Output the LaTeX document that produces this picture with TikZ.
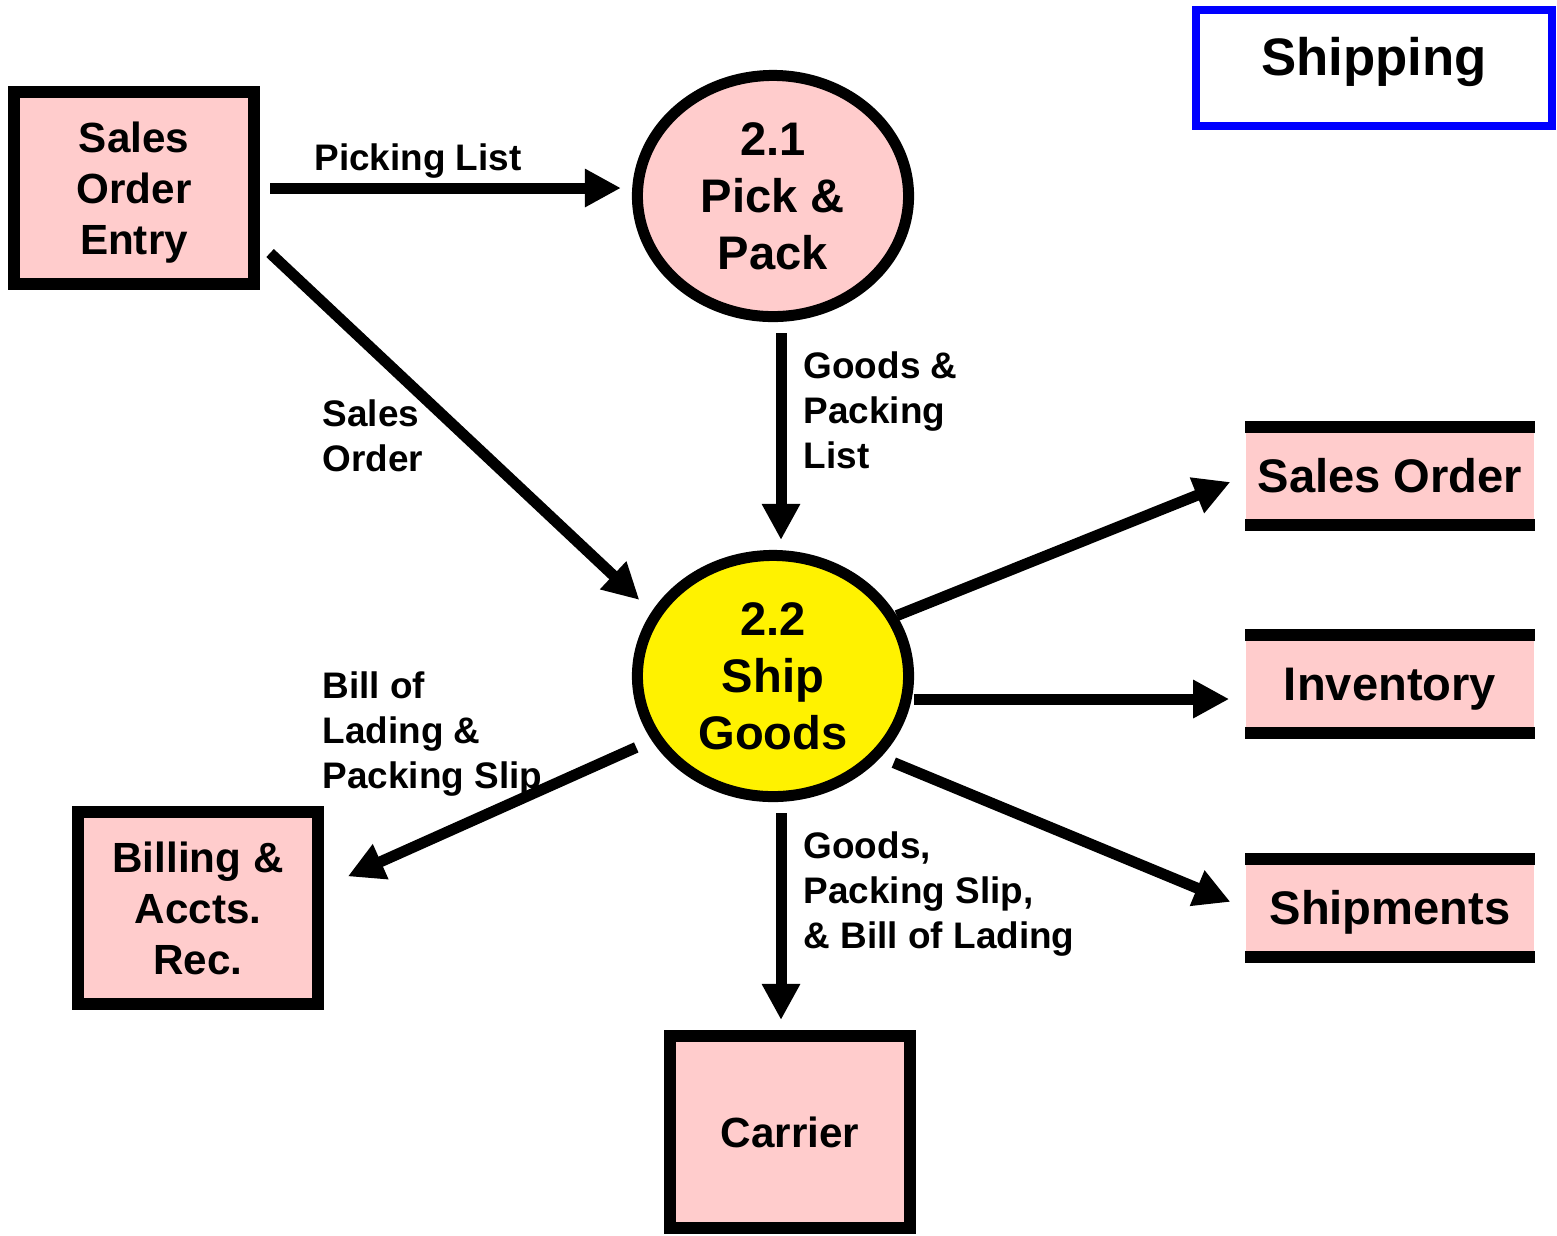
\documentclass[tikz,border=0pt]{standalone}
\usepackage{fontspec}
\setmainfont{Liberation Sans}
\usepackage[svgnames]{xcolor}
\usetikzlibrary{arrows.meta,shapes.geometric}
\definecolor{boxpink}{RGB}{255,204,204}
\colorlet{procyellow}{yellow}
\tikzset{
  entity/.style={draw,line width=1.2mm,fill=boxpink,minimum width=2.4cm,minimum height=1.92cm,
    inner sep=0pt,align=center,font=\bfseries\fontsize{12}{14.5}\selectfont},
  process/.style={ellipse,draw,line width=1.1mm,minimum width=2.71cm,minimum height=2.41cm,
    inner sep=0pt,align=center,font=\bfseries\fontsize{13.4}{16.2}\selectfont},
  store/.style={fill=boxpink,minimum width=2.88cm,minimum height=0.96cm,inner sep=0pt,
    text height=.32cm,text depth=0pt,font=\bfseries\fontsize{13.4}{16.2}\selectfont,
    append after command={(\tikzlastnode.north west) edge[line width=1.2mm] (\tikzlastnode.north east)
      (\tikzlastnode.south west) edge[line width=1.2mm] (\tikzlastnode.south east)}},
  flow/.style={line width=1.1mm,-{Triangle[length=3.6mm,width=3.6mm]}},
  flowtext/.style={align=left,inner sep=0pt,font=\bfseries\fontsize{10.5}{12.8}\selectfont},
}

\begin{document}
\begin{tikzpicture}[x=0.01cm,y=-0.01cm]
\useasboundingbox (0,0) rectangle (1557,1235);
% title
\node[draw=blue,line width=.8mm,minimum width=3.56cm,minimum height=1.16cm,text height=.4cm,
  text depth=.26cm,font=\bfseries\fontsize{15}{18}\selectfont] (title) at (1374,68) {Shipping};
% external entities
\node[entity] (soe) at (134,188) {Sales\\Order\\\smash{Entry}};
\node[entity] (bill) at (198,908) {Billing \&\\Accts.\\Rec.};
\node[entity] (car) at (790,1132) {Carrier};
% processes
\node[process,fill=boxpink] (pick) at (773,196) {2.1\\Pick \&\\Pack};
\node[process,fill=procyellow] (ship) at (773,676) {2.2\\Ship\\Goods};
% data stores
\node[store] (sord) at (1390,476) {Sales Order};
\node[store] (inv) at (1390,684) {Inventory};
\node[store] (shp) at (1390,908) {Shipments};
% flows
\draw[flow,shorten <=1mm,shorten >=1.1mm] (soe.east) -- (soe.east -| pick.west);
\draw[flow,shorten >=1.7mm] ([xshift=1mm,yshift=-6.5mm]soe.east) -- (ship.152);
\draw[flow,shorten <=1.1mm,shorten >=1mm] ([xshift=.8mm]pick.south) -- ([xshift=.8mm]ship.north);
\draw[flow,shorten >=1.6mm] (ship.26) -- (sord.west);
\draw[flow,shorten >=1.6mm] ([yshift=-2.3mm]ship.east) -- ([yshift=-2.3mm]ship.east -| inv.west);
\draw[flow,shorten <=1.4mm,shorten >=1.6mm] (ship.-37) -- (shp.west);
\draw[flow,shorten <=1.7mm,shorten >=2.6mm] (ship.208) -- ([yshift=2.1mm]bill.east);
\draw[flow,shorten <=1.1mm,shorten >=1mm] ([xshift=.8mm]ship.south) -- ([xshift=.8mm]ship.south |- car.north);
% flow labels
\node[flowtext] (lpick) at (418,161) {Picking List};
\node[flowtext,anchor=west] (lsord) at (322,436) {Sales\\Order};
\node[flowtext,anchor=west] (lgpl) at (803,410) {Goods \&\\Packing\\List};
\node[flowtext,anchor=west] (lbol) at (322,734) {Bill of\\Lading \&\\Packing Slip};
\node[flowtext,anchor=west] (lgps) at (803,894) {Goods,\\Packing Slip,\\\& Bill of Lading};
\end{tikzpicture}
\end{document}
